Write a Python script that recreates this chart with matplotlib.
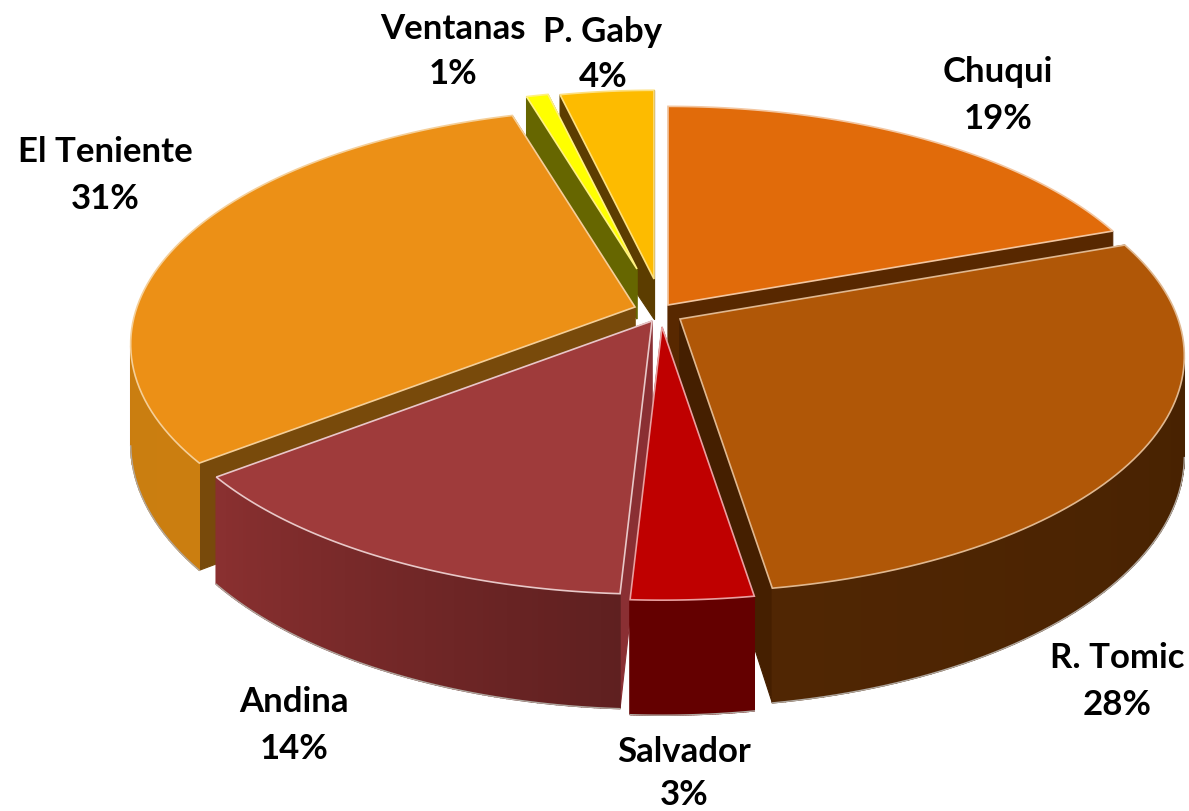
import numpy as np
import matplotlib
matplotlib.use('Agg')
import matplotlib.pyplot as plt
from matplotlib.colors import to_rgb
from matplotlib.patches import Polygon

names = ['Chuqui', 'R. Tomic', 'Salvador', 'Andina', 'El Teniente', 'Ventanas', 'P. Gaby']
labels = ['19%', '28%', '3%', '14%', '31%', '1%', '4%']
# shares, a bit finer than the rounded labels
shares = [19.5, 28.0, 3.36, 13.64, 30.92, 0.9, 3.68]

top_colors = ['#e16b0a', '#b05707', '#bf0000', '#9f3b3b', '#ec9016', '#ffff00', '#fdbb00']
# wall shade at the first and last angle of the slice (clockwise)
wall_start = ['#8a4a08', '#432000', '#640000', '#5f2020', '#cb7e10', '#666600', '#7a5500']
wall_end = ['#8a4a08', '#502603', '#640000', '#8a3030', '#c67c10', '#666600', '#7a5500']
cut_colors = ['#582800', '#451f00', '#640000', '#8a2f33', '#784a0b', '#666600', '#5c3d00']
edge_colors = ['#f3c6a0', '#e0b890', '#e8a0a0', '#e8c8c8', '#f5cf98', '#fff080', '#fde080']

# apex of each exploded slice, pixels
apex_x = [668, 680, 662, 652, 635, 637, 654]
apex_y = [306, 320, 328, 322, 308, 270, 280]
apex_drop = [100, 100, 100, 100, 100, 50, 40]
radius_scale = [1, 1, 1, 1, 1, 0.9, 0.95]

label_x = [998, 1117, 684, 294, 105, 453, 603]
name_y = [72, 658, 752, 702, 152, 29, 32]
pct_y = [119, 705, 795, 749, 199, 74, 77]

# back-to-front painting order
order = [6, 5, 0, 4, 1, 3, 2]

R = 498
RY = 230
PERSP = 0.158
DEPTH = 115


def project(i, t):
    u, v = np.sin(t), np.cos(t)
    s = 1 / (1 + PERSP * v)
    r = radius_scale[i]
    return apex_x[i] + r * R * u * s, apex_y[i] - r * RY * v * s, s * (1 - PERSP)


fig = plt.figure(figsize=(11.89, 8.12), dpi=100)
ax = fig.add_axes([0, 0, 1, 1])
ax.set_xlim(0, 1189)
ax.set_ylim(812, 0)
ax.axis('off')

edges = np.cumsum([0] + shares) / 100 * 2 * np.pi

for i in order:
    t = np.linspace(edges[i], edges[i + 1], 80)
    x, y, sc = project(i, t)
    yb = y + DEPTH * sc
    ab = apex_y[i] + apex_drop[i]

    # cut faces
    for k in [0, -1]:
        ax.add_patch(Polygon([(apex_x[i], apex_y[i]), (x[k], y[k]), (x[k], yb[k]), (apex_x[i], ab)],
                             closed=True, fc=cut_colors[i], ec=cut_colors[i], lw=0.8))
    # outer wall, small strips for the shading
    c0, c1 = np.array(to_rgb(wall_start[i])), np.array(to_rgb(wall_end[i]))
    visible = np.cos(t) < -PERSP
    for j in range(len(t) - 1):
        if not visible[j]:
            continue
        c = c0 + (c1 - c0) * j / (len(t) - 2)
        ax.add_patch(Polygon([(x[j], y[j]), (x[j + 1], y[j + 1]), (x[j + 1], yb[j + 1]), (x[j], yb[j])],
                             closed=True, fc=c, ec=c, lw=1))
    if visible.any():
        ax.plot(x[visible], yb[visible], color='#b0a8a0', lw=1)
    # top face
    pts = [(apex_x[i], apex_y[i])] + list(zip(x, y))
    ax.add_patch(Polygon(pts, closed=True, fc=top_colors[i], ec=edge_colors[i], lw=1.2))

for i in range(len(names)):
    ax.text(label_x[i], name_y[i], names[i], family='Lato', weight='bold', fontsize=25,
            ha='center', va='center', color='black')
    ax.text(label_x[i], pct_y[i], labels[i], family='Lato', weight='bold', fontsize=25,
            ha='center', va='center', color='black')

fig.savefig('out.png', dpi=100)
